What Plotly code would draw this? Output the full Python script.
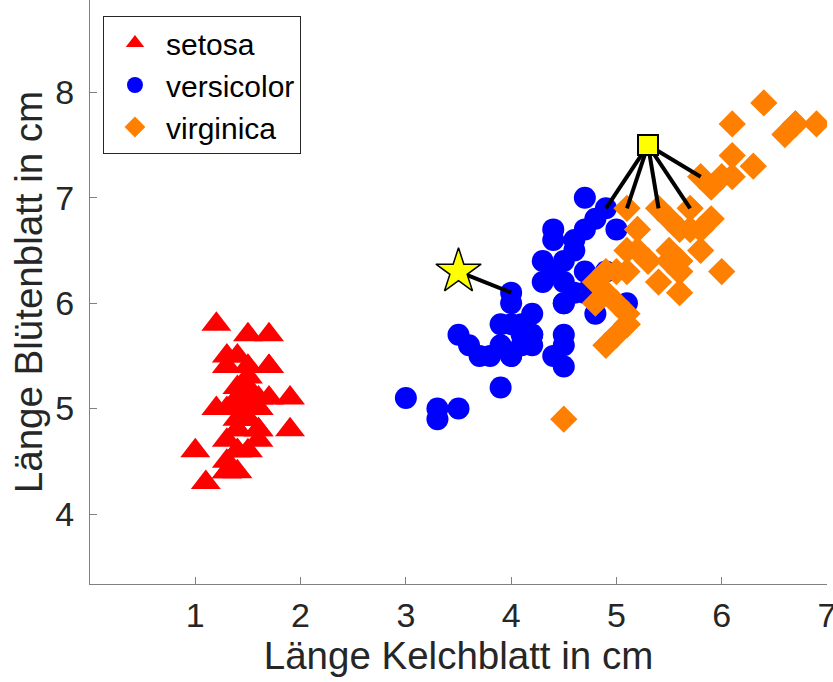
import plotly.graph_objects as go

# Iris data: x = petal length (shown as "Länge Kelchblatt"), y = sepal length
setosa_x = [1.4,1.4,1.3,1.5,1.4,1.7,1.4,1.5,1.4,1.5,1.5,1.6,1.4,1.1,1.2,1.5,1.3,1.4,1.7,1.5,
            1.7,1.5,1.0,1.7,1.9,1.6,1.6,1.5,1.4,1.6,1.6,1.5,1.5,1.4,1.5,1.2,1.3,1.5,1.3,1.5,
            1.3,1.3,1.3,1.6,1.9,1.4,1.6,1.4,1.5,1.4]
setosa_y = [5.1,4.9,4.7,4.6,5.0,5.4,4.6,5.0,4.4,4.9,5.4,4.8,4.8,4.3,5.8,5.7,5.4,5.1,5.7,5.1,
            5.4,5.1,4.6,5.1,4.8,5.0,5.0,5.2,5.2,4.7,4.8,5.4,5.2,5.5,4.9,5.0,5.5,4.9,4.4,5.1,
            5.0,4.5,4.4,5.0,5.1,4.8,5.1,4.6,5.3,5.0]
versicolor_x = [4.7,4.5,4.9,4.0,4.6,4.5,4.7,3.3,4.6,3.9,3.5,4.2,4.0,4.7,3.6,4.4,4.5,4.1,4.5,3.9,
                4.8,4.0,4.9,4.7,4.3,4.4,4.8,5.0,4.5,3.5,3.8,3.7,3.9,5.1,4.5,4.5,4.7,4.4,4.1,4.0,
                4.4,4.6,4.0,3.3,4.2,4.2,4.2,4.3,3.0,4.1]
versicolor_y = [7.0,6.4,6.9,5.5,6.5,5.7,6.3,4.9,6.6,5.2,5.0,5.9,6.0,6.1,5.6,6.7,5.6,5.8,6.2,5.6,
                5.9,6.1,6.3,6.1,6.4,6.6,6.8,6.7,6.0,5.7,5.5,5.5,5.8,6.0,5.4,6.0,6.7,6.3,5.6,5.5,
                5.5,6.1,5.8,5.0,5.6,5.7,5.7,6.2,5.1,5.7]
virginica_x = [6.0,5.1,5.9,5.6,5.8,6.6,4.5,6.3,5.8,6.1,5.1,5.3,5.5,5.0,5.1,5.3,5.5,6.7,6.9,5.0,
               5.7,4.9,6.7,4.9,5.7,6.0,4.8,4.9,5.6,5.8,6.1,6.4,5.6,5.1,5.6,6.1,5.6,5.5,4.8,5.4,
               5.6,5.1,5.1,5.9,5.7,5.2,5.0,5.2,5.4,5.1]
virginica_y = [6.3,5.8,7.1,6.3,6.5,7.6,4.9,7.3,6.7,7.2,6.5,6.4,6.8,5.7,5.8,6.4,6.5,7.7,7.7,6.0,
               6.9,5.6,7.7,6.3,6.7,7.2,6.2,6.1,6.4,7.2,7.4,7.9,6.4,6.3,6.1,7.7,6.3,6.4,6.0,6.9,
               6.7,6.9,5.8,6.8,6.7,6.7,6.3,6.5,6.2,5.9]

# Query points and their nearest neighbours
star_point = (3.5, 6.3)
star_neighbors_x = [4.0]
star_neighbors_y = [6.1]
square_point = (5.3, 7.5)
square_neighbors_x = [4.9, 5.1, 5.4, 5.7, 5.8]
square_neighbors_y = [6.9, 6.9, 6.9, 6.9, 7.2]

x_ticks = [1, 2, 3, 4, 5, 6, 7]
y_ticks = [4, 5, 6, 7, 8]

TXT = "#262626"
AX = "#808080"
FONT = "Liberation Sans, Arial, Helvetica, sans-serif"

fig = go.Figure()
fig.add_trace(go.Scatter(x=setosa_x, y=setosa_y, mode="markers", name="setosa",
                         marker=dict(symbol="triangle-up", size=26, color="#ff0000", line=dict(width=0))))
fig.add_trace(go.Scatter(x=versicolor_x, y=versicolor_y, mode="markers", name="versicolor",
                         marker=dict(symbol="circle", size=22, color="#0000ff", line=dict(width=0))))
fig.add_trace(go.Scatter(x=virginica_x, y=virginica_y, mode="markers", name="virginica",
                         marker=dict(symbol="diamond", size=21, color="#ff8000", line=dict(width=0))))

# neighbour lines
lx, ly = [], []
for nx, ny in zip(star_neighbors_x, star_neighbors_y):
    lx += [star_point[0], nx, None]
    ly += [star_point[1], ny, None]
for nx, ny in zip(square_neighbors_x, square_neighbors_y):
    lx += [square_point[0], nx, None]
    ly += [square_point[1], ny, None]
fig.add_trace(go.Scatter(x=lx, y=ly, mode="lines", line=dict(color="black", width=4),
                         showlegend=False, hoverinfo="skip"))

fig.add_trace(go.Scatter(x=[star_point[0]], y=[star_point[1]], mode="markers", showlegend=False,
                         marker=dict(symbol="star", size=34, color="#ffff00",
                                     line=dict(color="black", width=1.5))))
fig.add_trace(go.Scatter(x=[square_point[0]], y=[square_point[1]], mode="markers", showlegend=False,
                         marker=dict(symbol="square", size=20, color="#ffff00",
                                     line=dict(color="black", width=2))))

fig.update_layout(
    width=833, height=682,
    margin=dict(l=90, r=6, t=0, b=98),
    paper_bgcolor="white", plot_bgcolor="white",
    font=dict(family=FONT, color=TXT, size=34),
    xaxis=dict(range=[0, 7], tickvals=x_ticks, ticks="inside", ticklen=7, tickcolor=AX,
               showline=True, linecolor=AX, linewidth=1.3, showgrid=False, zeroline=False,
               automargin=False, ticklabeloverflow="allow",
               tickfont=dict(size=34, color=TXT), ticklabelstandoff=1,
               title=dict(text="Länge Kelchblatt in cm", font=dict(size=38.5, color=TXT), standoff=0)),
    yaxis=dict(range=[3.336, 8.876], tickvals=y_ticks, ticks="inside", ticklen=7, tickcolor=AX,
               showline=True, linecolor=AX, linewidth=1.3, showgrid=False, zeroline=False,
               automargin=False, ticklabeloverflow="allow",
               tickfont=dict(size=34, color=TXT), ticklabelstandoff=8,
               title=dict(text="Länge Blütenblatt in cm", font=dict(size=38.5, color=TXT), standoff=0)),
    legend=dict(x=0.0176, y=0.9726, xanchor="left", yanchor="top",
                bgcolor="white", bordercolor=TXT, borderwidth=1,
                font=dict(size=30, color="black"), itemwidth=52),
)

fig.write_html("out.html", config={"displayModeBar": False},
               post_script="document.body.style.margin='0';document.body.style.overflow='hidden';")
